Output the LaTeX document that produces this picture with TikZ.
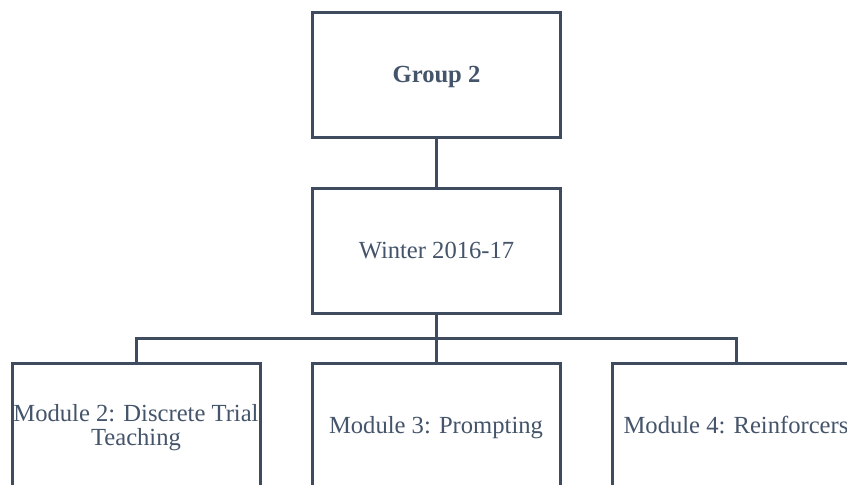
\documentclass[tikz,border=0pt]{standalone}
\usepackage{fontspec}
\setmainfont{Liberation Serif}
\definecolor{linec}{HTML}{3F4B5E}
\definecolor{textc}{HTML}{44546A}
\begin{document}
\begin{tikzpicture}[x=1pt,y=-1pt,
  box/.style={draw=linec, line width=3pt, fill=white, minimum width=248pt, minimum height=125pt,
    inner sep=0pt, text=textc, align=center, font=\fontsize{24.6}{24}\selectfont,
    text height=17pt, text depth=2pt},
  twoline/.style={text height=41pt, text depth=2pt},
  conn/.style={draw=linec, line width=3pt}]
\useasboundingbox (0,0) rectangle (847,485);
\clip (0,0) rectangle (847,485);
\node[box, font=\fontsize{24.6}{24}\selectfont\bfseries] (g) at (436.5,74.5) {Group 2};
\node[box] (w) at (436.5,251) {Winter 2016-17};
\node[box, twoline] (m2) at (136,426) {Module 2: Discrete Trial\\Teaching};
\node[box] (m3) at (436,426) {Module 3: Prompting};
\node[box] (m4) at (736,426) {Module 4: Reinforcers};
\coordinate (hub) at (436.5,338);
\draw[conn] (g.south) -- (w.north);
\draw[conn] (w.south) -- (hub);
\draw[conn] (hub) -| (m2.north);
\draw[conn] (hub) -| (m4.north);
\draw[conn] (hub) -- (hub -| m3.north) -- (m3.north);
\end{tikzpicture}
\end{document}
